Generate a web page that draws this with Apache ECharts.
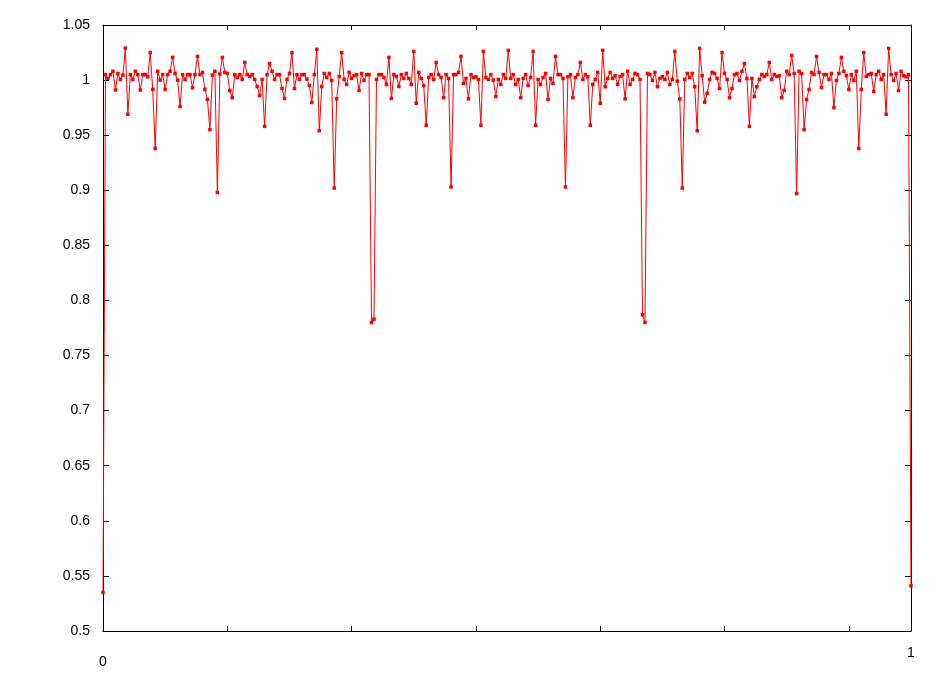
<!DOCTYPE html>
<html lang="en">

<head>
  <meta charset="UTF-8" />
  <title>Phase plot</title>
  <script src="https://cdn.jsdelivr.net/npm/echarts@6/dist/echarts.min.js"></script>
  <style>
    body,
    html {
      margin: 0;
      padding: 0;
      width: 100%;
      height: 100%;
      overflow: hidden;
      background: #ffffff;
    }

    #chart {
      width: 952px;
      height: 687px;
    }
  </style>
</head>

<body>
  <div id="chart"></div>
</body>
<script>
  // normalised flux, evenly spaced in phase from 0 to 1
  var fluxValues = [
    0.535,
    1.005, 1.0015, 1.005, 1.008, 0.991, 1.006, 1.0006, 1.0045, 1.029, 0.969,
    1.005, 1.0006, 1.008, 1.005, 0.991, 1.005, 1.005, 1.003, 1.025, 0.9915,
    0.938, 1.008, 1.0, 1.005, 0.9915, 1.005, 1.008, 1.0206, 1.006, 1.0,
    0.976, 1.005, 1.0006, 1.005, 1.005, 0.993, 1.005, 1.0215, 1.005, 1.007,
    0.9915, 0.9824, 0.955, 1.0045, 1.008, 0.898, 1.0055, 1.0206, 1.007, 1.006,
    0.9906, 0.984, 1.005, 1.0024, 1.005, 1.0006, 1.016, 1.005, 1.0033, 1.005,
    1.0006, 0.9942, 0.986, 1.0006, 0.958, 1.005, 1.015, 1.008, 1.0006, 1.005,
    1.005, 0.9924, 0.9833, 1.0006, 1.006, 1.025, 0.9924, 1.005, 1.0006, 1.005,
    1.005, 1.001, 0.9952, 0.9797, 1.005, 1.028, 0.954, 0.9942, 1.006, 1.0024,
    1.006, 0.9997, 0.902, 0.983, 1.0033, 1.025, 1.0006, 0.996, 1.007, 1.0015,
    1.004, 1.005, 0.9906, 1.006, 0.9997, 1.005, 1.005, 0.780, 0.783, 1.0006,
    1.005, 1.005, 1.0024, 0.996, 1.0206, 0.9833, 1.005, 1.0033, 0.9942, 1.005,
    1.0015, 1.006, 1.0015, 0.996, 1.026, 0.979, 1.007, 1.0015, 0.995, 0.959,
    1.0024, 1.005, 1.0006, 1.016, 1.005, 1.0024, 0.984, 1.005, 1.0015, 0.903,
    1.005, 1.005, 1.007, 1.0215, 0.997, 1.0015, 0.983, 1.005, 1.0024, 1.003,
    1.0006, 0.959, 1.026, 1.0024, 1.0006, 1.005, 1.0, 0.985, 1.0006, 0.996,
    1.005, 1.0015, 1.027, 1.0015, 1.005, 0.996, 1.0006, 0.984, 1.0015, 1.005,
    0.995, 1.0024, 1.026, 0.959, 1.0006, 0.996, 1.0024, 1.006, 0.9824, 1.0015,
    0.997, 1.0215, 1.005, 1.005, 1.0015, 0.903, 1.003, 1.005, 0.984, 1.0024,
    1.005, 1.016, 1.0006, 1.005, 1.003, 0.959, 0.996, 1.0006, 1.007, 0.979,
    1.027, 0.994, 1.0015, 1.007, 1.0015, 1.004, 0.996, 1.0033, 1.005, 0.983,
    1.008, 0.996, 1.0006, 1.006, 1.005, 1.0006, 0.787, 0.780, 1.006, 1.005,
    0.9997, 1.007, 0.994, 1.0015, 1.003, 1.0006, 1.007, 0.996, 1.0006, 1.026,
    0.999, 0.983, 0.902, 1.0006, 1.006, 1.0024, 1.006, 0.994, 0.954, 1.0288,
    1.004, 0.98, 0.988, 1.0006, 1.007, 1.006, 1.0015, 0.9924, 1.025, 1.006,
    1.0006, 0.984, 0.9924, 1.005, 1.006, 0.9997, 1.008, 1.015, 1.0015, 0.958,
    1.0015, 0.985, 0.994, 1.0006, 1.005, 1.0033, 1.005, 1.016, 1.0006, 1.005,
    1.0033, 1.004, 0.984, 0.9906, 1.008, 1.005, 1.0224, 1.006, 0.897, 1.008,
    1.006, 0.955, 0.9824, 0.9915, 1.007, 1.005, 1.0215, 1.007, 0.9933, 1.005,
    1.005, 1.0006, 1.006, 0.975, 0.9997, 1.006, 1.0206, 1.008, 1.004, 0.9915,
    1.005, 0.9997, 1.008, 0.938, 0.9915, 1.025, 1.0033, 1.005, 1.006, 0.9897,
    1.005, 1.008, 1.0006, 1.005, 0.969, 1.0288, 1.005, 0.9997, 1.006, 0.9906,
    1.008, 1.004, 1.003, 1.005,
    0.541
  ];

  var xMin = 0;
  var xMax = 1;
  var xStep = 2 / 13;
  var yMin = 0.5;
  var yMax = 1.05;
  var yStep = 0.05;

  var labelFont = {
    color: '#000000',
    fontFamily: 'Liberation Sans',
    fontSize: 14
  };

  var frameLine = {
    show: true,
    onZero: false,
    lineStyle: {
      color: '#000000',
      width: 1
    }
  };

  var chart = echarts.init(document.getElementById('chart'));

  var points = fluxValues.map(function (v, i) {
    return [i / (fluxValues.length - 1), v];
  });

  function xAxisDef(pos, showLabel) {
    return {
      type: 'value',
      position: pos,
      min: xMin,
      max: xMax,
      interval: xStep,
      axisLine: frameLine,
      axisTick: {
        show: true,
        inside: true,
        length: 5,
        lineStyle: { color: '#000000' }
      },
      splitLine: { show: false },
      axisLabel: {
        show: showLabel,
        margin: 15,
        showMinLabel: true,
        showMaxLabel: true,
        color: labelFont.color,
        fontFamily: labelFont.fontFamily,
        fontSize: labelFont.fontSize,
        formatter: function (val) {
          if (val === 0) return '{lo|0}';
          if (val === 1) return '{hi|1}';
          return '';
        },
        rich: {
          lo: {
            padding: [9, 0, 0, 0],
            color: labelFont.color,
            fontFamily: labelFont.fontFamily,
            fontSize: labelFont.fontSize
          },
          hi: {
            color: labelFont.color,
            fontFamily: labelFont.fontFamily,
            fontSize: labelFont.fontSize
          }
        }
      }
    };
  }

  function yAxisDef(pos, showLabel) {
    return {
      type: 'value',
      position: pos,
      min: yMin,
      max: yMax,
      interval: yStep,
      axisLine: frameLine,
      axisTick: {
        show: true,
        inside: true,
        length: 6,
        lineStyle: { color: '#000000' }
      },
      splitLine: { show: false },
      axisLabel: {
        show: showLabel,
        margin: 13,
        padding: [4, 0, 0, 0],
        color: labelFont.color,
        fontFamily: labelFont.fontFamily,
        fontSize: labelFont.fontSize
      }
    };
  }

  var option = {
    backgroundColor: '#ffffff',
    animation: false,
    grid: {
      left: 103,
      right: 41,
      top: 25,
      bottom: 56,
      containLabel: false
    },
    xAxis: [xAxisDef('bottom', true), xAxisDef('top', false)],
    yAxis: [yAxisDef('left', true), yAxisDef('right', false)],
    series: [{
      type: 'line',
      xAxisIndex: 0,
      yAxisIndex: 0,
      data: points,
      symbol: 'rect',
      symbolSize: 3.5,
      showAllSymbol: true,
      lineStyle: {
        color: '#ff0000',
        width: 1
      },
      itemStyle: {
        color: '#ff0000'
      }
    }]
  };

  chart.setOption(option);
</script>

</html>
